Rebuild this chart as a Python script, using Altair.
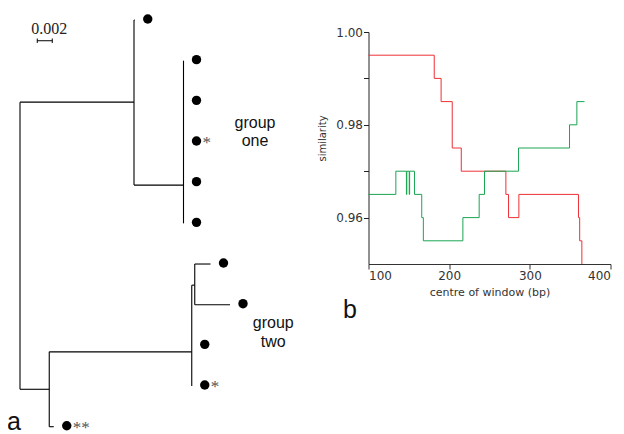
import altair as alt
import pandas as pd

# ---------------- panel b : similarity along the window (step traces) ----------------
RED_X = [100, 181.5, 190.0, 203.8, 215.0, 270.3, 273.6, 286.4, 360.3, 361.8, 364.5]
RED_Y = [0.995, 0.990, 0.985, 0.975, 0.970, 0.965, 0.960, 0.965, 0.960, 0.955, 0.950]

GREEN_X = [100, 133.9, 147.0, 147.5, 150.5, 151.0, 157.0, 166.0, 168.0, 217.0,
           237.2, 243.8, 286.0, 349.2, 358.3, 367.8]
GREEN_Y = [0.965, 0.970, 0.965, 0.970, 0.965, 0.970, 0.965, 0.960, 0.955, 0.960,
           0.965, 0.970, 0.975, 0.980, 0.985, 0.985]

SERIES = ["green trace", "red trace"]
SERIES_COLORS = ["#1aa552", "#ee3035"]
X_TICKS = [100, 200, 300, 400]
Y_TICKS = [0.96, 0.97, 0.98, 0.99, 1.00]

# ---------------- panel a : phylogenetic tree ----------------
NODE_NAMES = ["root", "U", "T0", "G1", "T1", "T2", "T3", "T4", "T5",
              "L", "G2", "S", "T6", "T7", "T8", "T9", "T10"]
NODE_PARENT = [None, "root", "U", "U", "G1", "G1", "G1", "G1", "G1",
               "root", "L", "G2", "S", "S", "G2", "G2", "L"]
NODE_DEPTH = [0.0, 0.0152, 0.0153, 0.0218, 0.0218, 0.0218, 0.0218, 0.0218, 0.0218,
              0.0039, 0.0229, 0.0233, 0.0254, 0.0280, 0.0229, 0.0229, 0.0045]
NODE_ROW = [5.55, 2.02, 0, 4.06, 1, 2, 3, 4, 5,
            9.08, 8.16, 6.52, 6, 7, 8, 9, 10]
TIP_MARKS = {"T3": "*", "T9": "*", "T10": "**"}
SCALE_BAR = 0.002
GROUP_LABELS = ["group\none", "group\ntwo"]
PANEL_LETTERS = ["a", "b"]

# ---------------- build tables ----------------
green_df = pd.DataFrame({"pos": GREEN_X, "sim": GREEN_Y, "series": SERIES[0]})
red_df = pd.DataFrame({"pos": RED_X, "sim": RED_Y, "series": SERIES[1]})

nodes = pd.DataFrame({"name": NODE_NAMES, "parent": NODE_PARENT,
                      "depth": NODE_DEPTH, "row": NODE_ROW}).set_index("name")
segs = []
for name, r in nodes.iterrows():
    if r["parent"] is not None:
        p = nodes.loc[r["parent"]]
        if p["depth"] != r["depth"]:
            segs.append({"x0": p["depth"], "x1": r["depth"], "y0": r["row"], "y1": r["row"]})
    kids = nodes[nodes["parent"] == name]
    if len(kids):
        segs.append({"x0": r["depth"], "x1": r["depth"],
                     "y0": kids["row"].min(), "y1": kids["row"].max()})
seg_df = pd.DataFrame(segs)
tips = nodes[~nodes.index.isin(nodes["parent"].dropna())].reset_index()
tips["mark"] = tips["name"].map(TIP_MARKS).fillna("")
marked = tips[tips["mark"] != ""]

bar_start, bar_row = 0.0023, 0.51
bar_df = pd.DataFrame({"x0": [bar_start, bar_start, bar_start + SCALE_BAR],
                       "x1": [bar_start + SCALE_BAR, bar_start, bar_start + SCALE_BAR],
                       "y0": [bar_row, bar_row - 0.055, bar_row - 0.055],
                       "y1": [bar_row, bar_row + 0.055, bar_row + 0.055]})
bar_lab = pd.DataFrame({"x": [bar_start + SCALE_BAR / 2], "t": [f"{SCALE_BAR:g}"]})

TX = alt.Scale(domain=[0, 0.04], range=[-348.5, -48.5])
TY = alt.Scale(domain=[0, 10], range=[-12.0, 394.7])

FONT = "DejaVu Sans"

XS = alt.Scale(domain=[100, 400], nice=False, zero=False)
YS = alt.Scale(domain=[0.95, 1.0], nice=False, zero=False)
x_axis = alt.Axis(values=X_TICKS, title="centre of window (bp)", grid=False,
                  labelFont=FONT, labelFontSize=12, labelColor="#333",
                  labelPadding=1, tickSize=5, tickColor="#333", domainColor="#333",
                  titleFont=FONT, titleFontSize=11, titleFontWeight="normal",
                  titleColor="#333", titleY=31, titleBaseline="alphabetic")
y_axis = alt.Axis(values=Y_TICKS, grid=False, title="similarity",
                  labelExpr="(round(datum.value*100) % 2 == 0) ? format(datum.value, '.2f') : ''",
                  labelFont=FONT, labelFontSize=12, labelColor="#333",
                  labelPadding=1, tickSize=5, tickColor="#222", domainColor="#222",
                  titleFont=FONT, titleFontSize=10, titleFontWeight="normal",
                  titleColor="#333", titleX=-43, titleY=106,
                  titleAlign="center", titleBaseline="alphabetic")

# ---------------- charts ----------------
green_line = alt.Chart(green_df).mark_line(
    interpolate="step-after", strokeWidth=1, stroke=SERIES_COLORS[0]).encode(
    x=alt.X("pos:Q", scale=XS, axis=x_axis),
    y=alt.Y("sim:Q", scale=YS, axis=y_axis))
red_line = alt.Chart(red_df).mark_line(
    interpolate="step-after", strokeWidth=1, stroke=SERIES_COLORS[1]).encode(
    x=alt.X("pos:Q", scale=XS, axis=x_axis),
    y=alt.Y("sim:Q", scale=YS, axis=y_axis))
lines = alt.layer(red_line, green_line)

branches = alt.Chart(seg_df).mark_rule(color="black", strokeWidth=1.1).encode(
    x=alt.X("x0:Q", scale=TX, axis=None), x2="x1:Q",
    y=alt.Y("y0:Q", scale=TY, axis=None), y2="y1:Q")

dots = alt.Chart(tips).mark_circle(color="black", opacity=1, size=88, xOffset=13, yOffset=-1).encode(
    x=alt.X("depth:Q", scale=TX, axis=None),
    y=alt.Y("row:Q", scale=TY, axis=None))

stars = alt.Chart(marked).mark_text(font="Liberation Serif", fontSize=17, color="#555",
                                     align="left", baseline="alphabetic", dx=19, dy=6).encode(
    x=alt.X("depth:Q", scale=TX, axis=None),
    y=alt.Y("row:Q", scale=TY, axis=None),
    text="mark:N")

bar = alt.Chart(bar_df).mark_rule(color="black", strokeWidth=1).encode(
    x=alt.X("x0:Q", scale=TX, axis=None), x2="x1:Q",
    y=alt.Y("y0:Q", scale=TY, axis=None), y2="y1:Q")

bar_text = alt.Chart(bar_lab).mark_text(font="Liberation Serif", fontSize=16, color="#222",
                                        baseline="alphabetic", dx=4.5).encode(
    x=alt.X("x:Q", scale=TX, axis=None),
    y=alt.value(2.3),
    text="t:N")

def label(txt, x, y, size, align="center"):
    return alt.Chart(pd.DataFrame({"t": [txt]})).mark_text(
        font="Liberation Sans", fontSize=size, color="#111", align=align,
        baseline="alphabetic", lineBreak="\n", lineHeight=18.5).encode(
        x=alt.value(x), y=alt.value(y), text="t:N")

g1 = label(GROUP_LABELS[0], -113.5, 95.7, 16)
g2 = label(GROUP_LABELS[1], -95.2, 296.3, 16)
la = label(PANEL_LETTERS[0], -361.5, 398, 25, align="left")
lb = label(PANEL_LETTERS[1], -25.5, 286.3, 25, align="left")

tree = alt.layer(branches, dots, stars, bar, bar_text, g1, g2, la, lb)

chart = alt.layer(lines, tree).resolve_scale(x="independent", y="independent").properties(
    width=242, height=232,
    autosize=alt.AutoSizeParams(type="none"),
    padding={"left": 360.5, "top": 24.0, "right": 5.5, "bottom": 170.0},
).configure_view(stroke=None)

chart.save("out.html", embed_options={"renderer": "svg", "actions": False})
